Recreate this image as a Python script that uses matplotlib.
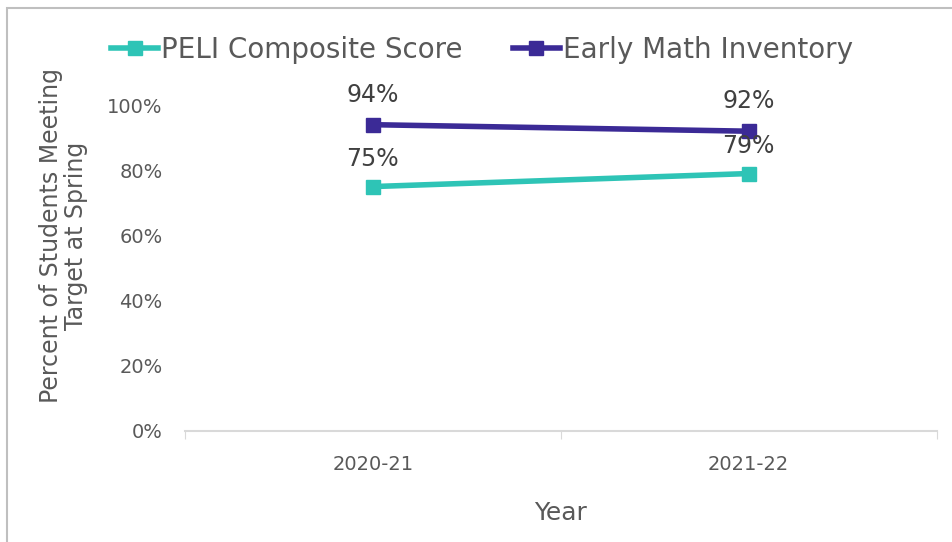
import matplotlib
matplotlib.use('Agg')
import matplotlib.pyplot as plt
from matplotlib.patches import Rectangle
from matplotlib.ticker import PercentFormatter

years = ['2020-21', '2021-22']
peli = [0.75, 0.79]
emi = [0.94, 0.92]
series_names = ['PELI Composite Score', 'Early Math Inventory']

teal = '#2EC4B6'
purple = '#3B2A96'
text_gray = '#595959'

plt.rcParams['font.family'] = ['DejaVu Sans']

fig = plt.figure(figsize=(9.52, 5.42), dpi=100)
ax = fig.add_axes([0.194, 0.205, 0.790, 0.601])

# light frame around the chart area
fig.patches.append(Rectangle((0.007, -0.05), 1.1, 1.036, transform=fig.transFigure,
                             fill=False, edgecolor='#BFBFBF', linewidth=1.5))

x = [0.5, 1.5]
ax.plot(x, peli, color=teal, linewidth=4, marker='s', markersize=10, label=series_names[0])
ax.plot(x, emi, color=purple, linewidth=4, marker='s', markersize=10, label=series_names[1])

for xi, v in zip(x, peli):
    ax.annotate(f'{v:.0%}', (xi, v), xytext=(0, 11), textcoords='offset points',
                ha='center', va='bottom', fontsize=17, color='#404040')
for xi, v in zip(x, emi):
    ax.annotate(f'{v:.0%}', (xi, v), xytext=(0, 13), textcoords='offset points',
                ha='center', va='bottom', fontsize=17, color='#404040')

ax.set_xlim(0, 2)
ax.set_ylim(0, 1.0)
ax.set_yticks([0, 0.2, 0.4, 0.6, 0.8, 1.0])
ax.yaxis.set_major_formatter(PercentFormatter(1.0, decimals=0))
ax.set_xticks([0, 1, 2])
ax.set_xticklabels([])
ax.set_xticks(x, minor=True)
ax.set_xticklabels(years, minor=True)
ax.tick_params(axis='x', which='major', length=6, color='#D9D9D9', direction='out')
ax.tick_params(axis='x', which='minor', length=0, pad=17, labelsize=14, labelcolor=text_gray)
ax.tick_params(axis='y', length=0, pad=16, labelsize=14, labelcolor=text_gray)

for s in ['top', 'right', 'left']:
    ax.spines[s].set_visible(False)
ax.spines['bottom'].set_color('#D9D9D9')
ax.spines['bottom'].set_linewidth(1.5)

ax.set_xlabel('Year', fontsize=18, color=text_gray, labelpad=20)
ax.set_ylabel('Percent of Students Meeting\nTarget at Spring', fontsize=17, color=text_gray,
              linespacing=1.05)
ax.yaxis.set_label_coords(-0.128, 0.6)

ax.legend(loc='lower center', bbox_to_anchor=(0.395, 1.05), ncol=2, frameon=False,
          fontsize=20, handlelength=1.7, handletextpad=0.1, columnspacing=1.8,
          labelcolor=text_gray)

fig.savefig('out.png', dpi=100)
